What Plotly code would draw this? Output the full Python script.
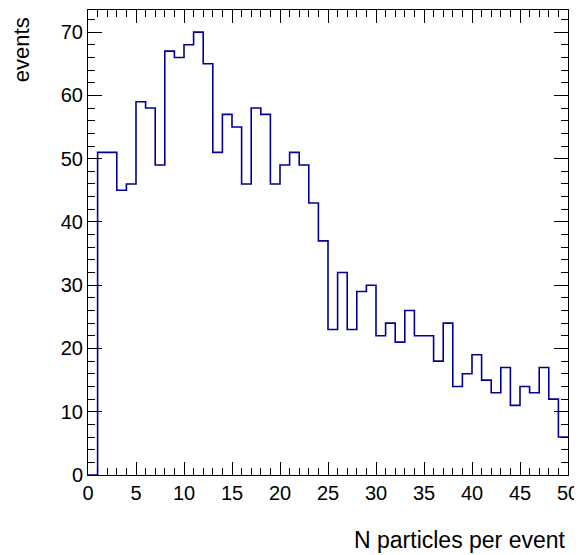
import plotly.graph_objects as go

bin_low = 0
bin_width = 1
counts = [0, 51, 51, 45, 46, 59, 58, 49, 67, 66, 68, 70, 65, 51, 57, 55, 46, 58, 57, 46,
          49, 51, 49, 43, 37, 23, 32, 23, 29, 30, 22, 24, 21, 26, 22, 22, 18, 24, 14, 16,
          19, 15, 13, 17, 11, 14, 13, 17, 12, 6]
x_title = "N particles per event"
y_title = "events"

edges = [bin_low + i * bin_width for i in range(len(counts) + 1)]
yvals = counts + [counts[-1]]

fig = go.Figure()
fig.add_trace(go.Scatter(x=edges, y=yvals, mode="lines", line_shape="hv",
                         line=dict(color="rgb(0,0,153)", width=1.6), hoverinfo="skip"))

fam = "Liberation Sans, Arial, Helvetica, sans-serif"
tickfont = dict(family=fam, size=20, color="black")
xtitlefont = dict(family=fam, size=23, color="black")
ytitlefont = dict(family=fam, size=22, color="black")
# page body has an 8px margin: figure is placed at (8,8)
fig.update_layout(
    width=574, height=547,
    margin=dict(l=80, r=14, t=2, b=80),
    paper_bgcolor="white", plot_bgcolor="white",
    showlegend=False, font=tickfont,
    xaxis=dict(range=[0, 50], tick0=0, dtick=5, ticks="inside", ticklen=13, tickwidth=1,
               tickcolor="black", mirror="ticks", showline=True, linecolor="black", linewidth=1,
               showgrid=False, zeroline=False,
               minor=dict(dtick=1, ticks="inside", ticklen=7, tickcolor="black", showgrid=False),
               tickfont=tickfont),
    yaxis=dict(range=[0, 73.5], tick0=0, dtick=10, ticks="inside", ticklen=14, tickwidth=1,
               tickcolor="black", mirror="ticks", showline=True, linecolor="black", linewidth=1,
               showgrid=False, zeroline=False,
               minor=dict(dtick=2, ticks="inside", ticklen=7, tickcolor="black", showgrid=False),
               tickfont=tickfont),
    annotations=[
        dict(text=x_title, xref="paper", yref="paper", x=1.0, y=-0.14, xanchor="right",
             yanchor="middle", showarrow=False, font=xtitlefont),
        dict(text=y_title, xref="paper", yref="paper", x=-0.1396, y=0.99, xanchor="center",
             yanchor="top", textangle=-90, showarrow=False, font=ytitlefont),
    ],
)
fig.write_html("out.html")
